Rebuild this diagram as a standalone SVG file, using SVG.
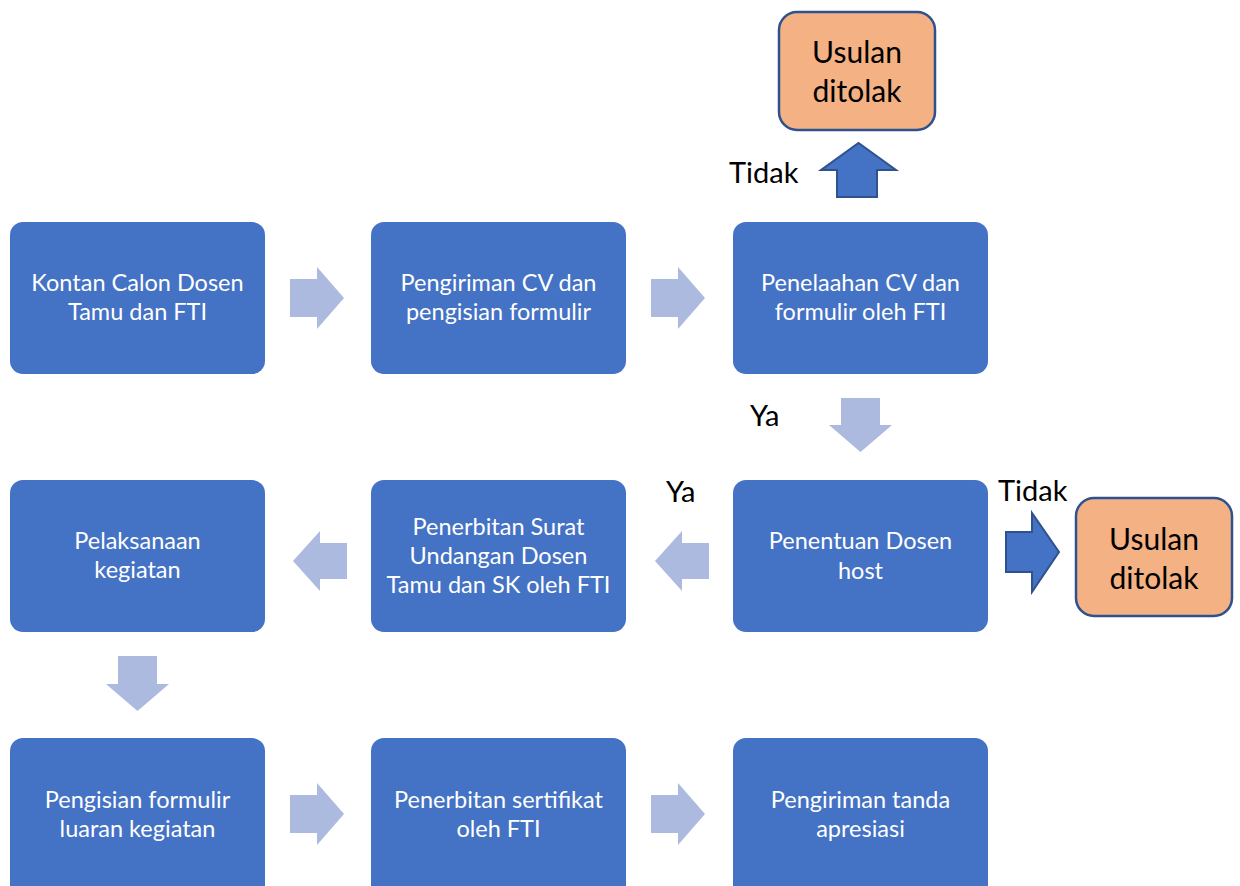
<svg xmlns="http://www.w3.org/2000/svg" width="1240" height="886" viewBox="0 0 1240 886">
<style>
.box{fill:#4472c4}
.rej{fill:#f4b183;stroke:#2f528f;stroke-width:2.5}
.la{fill:#adbadf}
.da{fill:#4472c4;stroke:#2f528f;stroke-width:2}
.t{font-family:Lato,"Liberation Sans",sans-serif;font-size:23.5px;fill:#fff;text-anchor:middle}
.k{font-family:Lato,"Liberation Sans",sans-serif;font-size:29px;fill:#000}
.kr{font-family:Lato,"Liberation Sans",sans-serif;font-size:30px;fill:#000;text-anchor:middle}
</style>
<rect width="1240" height="886" fill="#fff"/>
<g id="n1"><rect class="box" x="10" y="222" width="255" height="152" rx="13"/><text class="t" x="137.5" y="291">Kontan Calon Dosen</text><text class="t" x="137.5" y="320">Tamu dan FTI</text></g>
<g id="n2"><rect class="box" x="371" y="222" width="255" height="152" rx="13"/><text class="t" x="498.5" y="291">Pengiriman CV dan</text><text class="t" x="498.5" y="320">pengisian formulir</text></g>
<g id="n3"><rect class="box" x="733" y="222" width="255" height="152" rx="13"/><text class="t" x="860.5" y="291">Penelaahan CV dan</text><text class="t" x="860.5" y="320">formulir oleh FTI</text></g>
<g id="r1"><rect class="rej" x="779" y="12" width="156" height="118" rx="18"/><text class="kr" x="857" y="63">Usulan</text><text class="kr" x="857" y="102">ditolak</text></g>
<g id="n4"><rect class="box" x="733" y="480" width="255" height="152" rx="13"/><text class="t" x="860.5" y="549">Penentuan Dosen</text><text class="t" x="860.5" y="579">host</text></g>
<g id="r2"><rect class="rej" x="1076" y="498" width="156" height="118" rx="18"/><text class="kr" x="1154" y="550">Usulan</text><text class="kr" x="1154" y="589">ditolak</text></g>
<g id="n5"><rect class="box" x="371" y="480" width="255" height="152" rx="13"/><text class="t" x="498.5" y="535">Penerbitan Surat</text><text class="t" x="498.5" y="564">Undangan Dosen</text><text class="t" x="498.5" y="593">Tamu dan SK oleh FTI</text></g>
<g id="n6"><rect class="box" x="10" y="480" width="255" height="152" rx="13"/><text class="t" x="137.5" y="549">Pelaksanaan</text><text class="t" x="137.5" y="578">kegiatan</text></g>
<g id="n7"><rect class="box" x="10" y="738" width="255" height="160" rx="13"/><text class="t" x="137.5" y="808">Pengisian formulir</text><text class="t" x="137.5" y="837">luaran kegiatan</text></g>
<g id="n8"><rect class="box" x="371" y="738" width="255" height="160" rx="13"/><text class="t" x="498.5" y="808">Penerbitan sertifikat</text><text class="t" x="498.5" y="837">oleh FTI</text></g>
<g id="n9"><rect class="box" x="733" y="738" width="255" height="160" rx="13"/><text class="t" x="860.5" y="808">Pengiriman tanda</text><text class="t" x="860.5" y="837">apresiasi</text></g>
<g id="connectors">
<polygon class="la" points="290,279 317,279 317,267 344,298 317,329 317,317 290,317"/>
<polygon class="la" points="651,279 678,279 678,267 705,298 678,329 678,317 651,317"/>
<polygon class="da" points="837,197 837,170 821,170 858.5,143 896,170 877,170 877,197"/>
<polygon class="la" points="841,398 880,398 880,425 892,425 860.5,452 829,425 841,425"/>
<polygon class="la" points="709,543 682,543 682,531 655,561 682,591 682,579 709,579"/>
<polygon class="la" points="347,543 320,543 320,531 293,561 320,591 320,579 347,579"/>
<polygon class="da" points="1006,532 1032,532 1032,513 1059,552 1032,592 1032,572 1006,572"/>
<polygon class="la" points="118,656 157,656 157,684 169,684 137.5,711 106,684 118,684"/>
<polygon class="la" points="290,795 317,795 317,783 344,814 317,845 317,833 290,833"/>
<polygon class="la" points="651,795 678,795 678,783 705,814 678,845 678,833 651,833"/>
<text class="k" x="729" y="183">Tidak</text>
<text class="k" x="750" y="426">Ya</text>
<text class="k" x="666" y="502">Ya</text>
<text class="k" x="998" y="501">Tidak</text>
</g>
</svg>
